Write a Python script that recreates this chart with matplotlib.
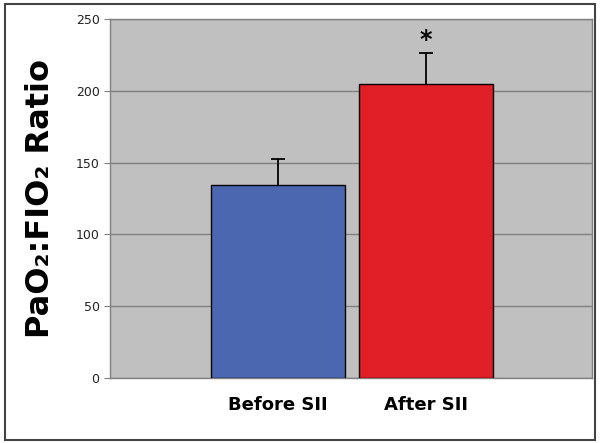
import matplotlib
matplotlib.use("Agg")
import matplotlib.pyplot as plt
from matplotlib.patches import Rectangle

labels = ["Before SII", "After SII"]
means = [134.5, 205.0]
errors = [18.0, 21.0]
colors = ["#4A67B0", "#E01F26"]
yticks = [0, 50, 100, 150, 200, 250]

fig = plt.figure(figsize=(6, 4.43), dpi=100)
ax = fig.add_axes([110 / 600, 65 / 443, 482 / 600, 359 / 443])
ax.set_facecolor("#C0C0C0")

x = [0, 1]
tops = [m + e for m, e in zip(means, errors)]
ax.bar(x, means, width=0.907, color=colors, edgecolor="black", linewidth=1.0, zorder=3)
# upper error bars only
ax.vlines(x, means, tops, color="black", linewidth=1.3, zorder=4)
ax.plot(x, tops, linestyle="none", marker="_", markersize=10,
        markeredgewidth=1.3, color="black", zorder=4)
ax.text(1, tops[1] + 1, "*", ha="center", va="bottom",
        fontsize=17, fontweight="bold", zorder=5)

ax.set_xlim(-1.137, 2.126)
ax.set_ylim(0, 250)
ax.set_yticks(yticks)
ax.yaxis.grid(True, color="#808080", linewidth=1.0, zorder=1)
ax.set_axisbelow(True)
ax.tick_params(axis="y", labelsize=9, length=4, color="#808080", labelcolor="#222222")
ax.set_xticks(x)
ax.set_xticklabels(labels, fontsize=13, fontweight="bold")
ax.tick_params(axis="x", length=0, pad=13)
for s in ax.spines.values():
    s.set_color("#808080")
    s.set_linewidth(1.0)

ax.set_ylabel("PaO₂:FIO₂ Ratio", fontsize=23, fontweight="bold", labelpad=14)

fig.patches.append(Rectangle((5 / 600, 3 / 443), 590 / 600, 436 / 443,
                             transform=fig.transFigure, fill=False,
                             edgecolor="#444444", linewidth=1.5))

fig.savefig("out.png", dpi=100)
